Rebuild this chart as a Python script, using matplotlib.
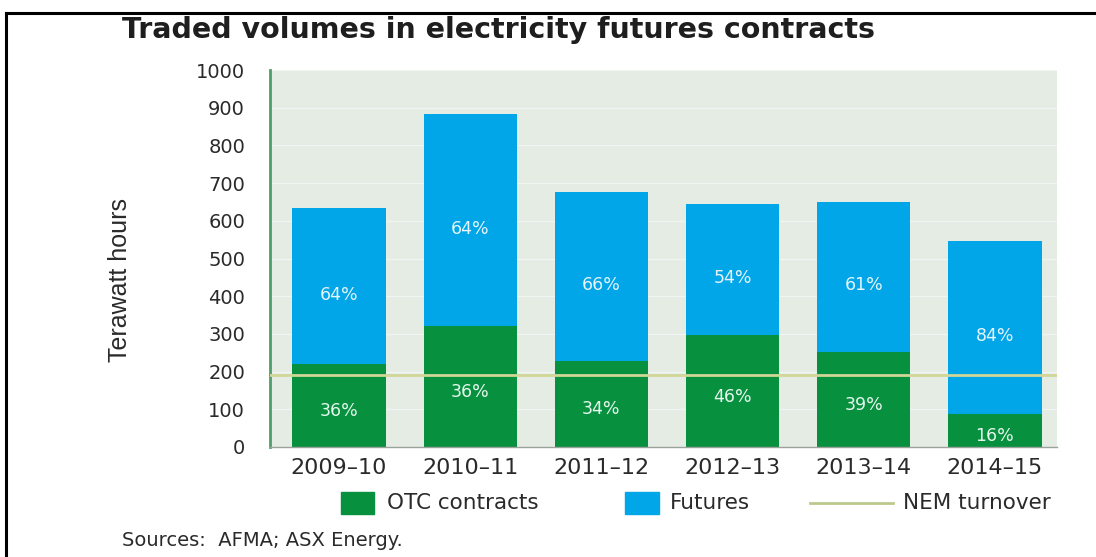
import matplotlib
matplotlib.use("Agg")
import matplotlib.pyplot as plt
from matplotlib.patches import Rectangle
from matplotlib.lines import Line2D

# ---- data ----
categories = ['2009–10', '2010–11', '2011–12', '2012–13', '2013–14', '2014–15']
otc = [220, 320, 229, 296, 253, 88]
futures = [413, 563, 448, 349, 398, 459]
otc_pct = ['36%', '36%', '34%', '46%', '39%', '16%']
fut_pct = ['64%', '64%', '66%', '54%', '61%', '84%']
nem_turnover = 190
yticks = [0, 100, 200, 300, 400, 500, 600, 700, 800, 900, 1000]

GREEN = '#07913f'
BLUE = '#00a6e8'
BG = '#e4ece4'
NEM = '#d2d696'
TXT = '#2a2a2a'

W, H = 1096, 557
fig = plt.figure(figsize=(W / 100, H / 100), dpi=100)
fig.patch.set_facecolor('white')

ax = fig.add_axes([270 / W, 1 - 447 / H, 787 / W, 377 / H])
ax.set_facecolor(BG)
x = list(range(len(categories)))
bw = 0.71
ax.bar(x, otc, width=bw, color=GREEN, zorder=2)
ax.bar(x, futures, width=bw, bottom=otc, color=BLUE, zorder=2)
ax.axhline(nem_turnover, color=NEM, lw=2, zorder=3)

for i in x:
    ax.annotate(otc_pct[i], (i, otc[i] / 2), xytext=(0, -4), textcoords='offset points',
                ha='center', va='center', color='#e6f7ee', fontsize=12.5, zorder=4)
    ax.annotate(fut_pct[i], (i, otc[i] + futures[i] / 2), xytext=(0, -6), textcoords='offset points',
                ha='center', va='center', color='#e6f4fb', fontsize=12.5, zorder=4)

ax.set_xlim(-0.526, 5.473)
ax.set_ylim(0, 1000)
ax.set_yticks(yticks)
ax.set_yticklabels([str(v) for v in yticks])
ax.set_xticks(x)
ax.set_xticklabels(categories)
ax.tick_params(axis='y', length=0, pad=18, labelsize=14, labelcolor=TXT)
ax.tick_params(axis='x', length=0, pad=8, labelsize=16, labelcolor=TXT)
ax.yaxis.grid(True, color='#f1f5f1', lw=1, zorder=0)
ax.set_axisbelow(True)
for s in ['top', 'right']:
    ax.spines[s].set_visible(False)
ax.spines['left'].set_color('#4e9e6c')
ax.spines['left'].set_linewidth(2)
ax.spines['bottom'].set_color('#9aa39a')
ax.spines['bottom'].set_linewidth(1)

ax.set_ylabel('Terawatt hours',
              family=['DejaVu Sans Condensed', 'Liberation Sans Narrow', 'Liberation Sans'],
              fontsize=18, color=TXT)
ax.yaxis.set_label_coords((132 - 270) / 787, (447 - 280) / 377)

# title and source
fig.text(122 / W, 1 - 30 / H, 'Traded volumes in electricity futures contracts',
         fontsize=20.5, fontweight='bold', color='#1e1e1e', ha='left', va='center')
fig.text(122 / W, 1 - 540 / H, 'Sources:  AFMA; ASX Energy.', fontsize=14,
         color=TXT, ha='left', va='center')

# legend (manual)
ly = 1 - 503 / H
fig.add_artist(Rectangle((341 / W, 1 - 514 / H), 33 / W, 22 / H, color=GREEN,
                         transform=fig.transFigure))
fig.text(387 / W, ly, 'OTC contracts', fontsize=15.5, color=TXT, va='center', ha='left')
fig.add_artist(Rectangle((625 / W, 1 - 514 / H), 34 / W, 22 / H, color=BLUE,
                         transform=fig.transFigure))
fig.text(670 / W, ly, 'Futures', fontsize=15.5, color=TXT, va='center', ha='left')
fig.add_artist(Line2D([810 / W, 893 / W], [ly, ly], color='#bcc98e', lw=2,
                      transform=fig.transFigure))
fig.text(903 / W, ly, 'NEM turnover', fontsize=15.5, color=TXT, va='center', ha='left')

# frame lines (border of the original figure)
fig.add_artist(Line2D([6 / W, 1.0], [1 - 12.5 / H, 1 - 12.5 / H], color='black', lw=2.2,
                      transform=fig.transFigure))
fig.add_artist(Line2D([6 / W, 6 / W], [0, 1 - 12.5 / H], color='black', lw=2.2,
                      transform=fig.transFigure))

fig.savefig('out.png', dpi=100)
